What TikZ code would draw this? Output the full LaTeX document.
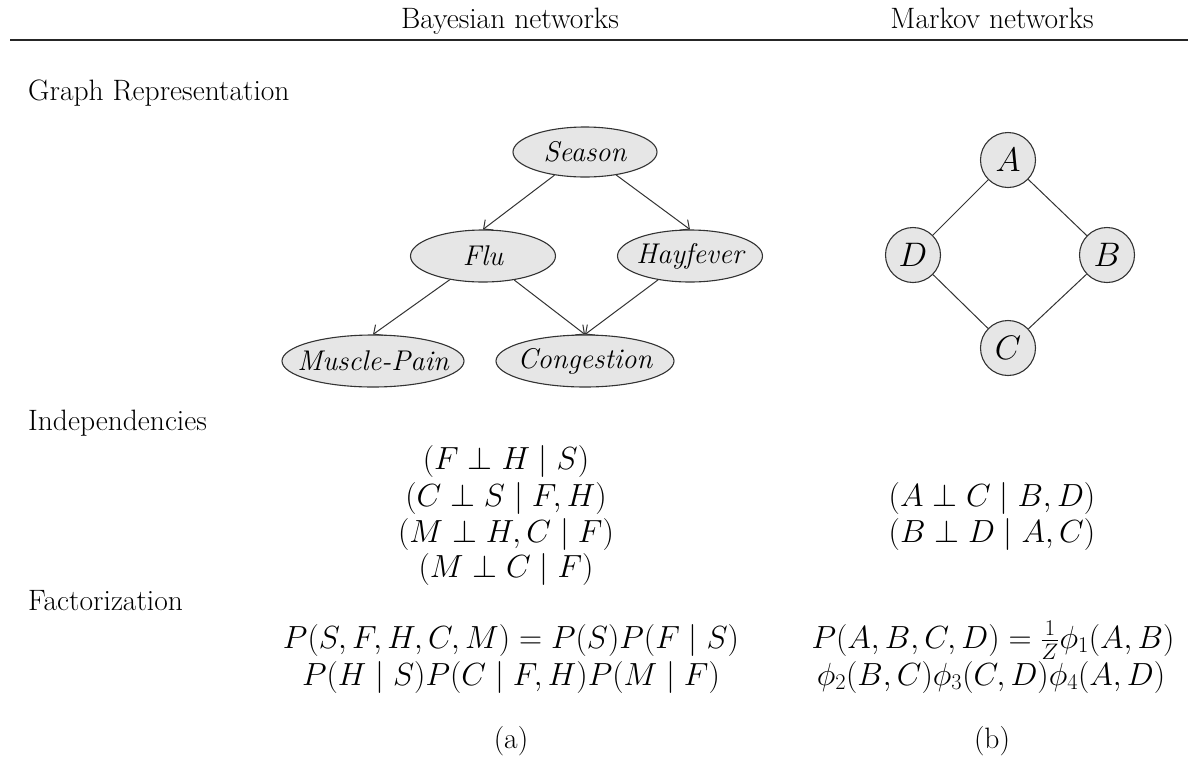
\RequirePackage{fix-cm}
\documentclass[tikz,border=0pt]{standalone}
\usepackage{amsmath}
\usetikzlibrary{shapes.geometric,arrows.meta}
\definecolor{nodefill}{HTML}{E6E6E6}
\definecolor{linec}{HTML}{333333}
\newcommand{\bnlabel}[1]{\makebox[0pt]{\itshape #1}}
\begin{document}
\begin{tikzpicture}[x=1pt,y=-1pt,
  txt/.style={font=\fontsize{29.5}{34}\selectfont, inner sep=0pt, anchor=base},
  sec/.style={txt, anchor=base west},
  mth/.style={font=\fontsize{32}{36}\selectfont, inner sep=0pt, anchor=base},
  bn/.style={ellipse, draw=linec, fill=nodefill, line width=1.1pt, font=\fontsize{28.5}{32}\selectfont, inner sep=0pt, minimum height=52pt},
  mn/.style={circle, draw=linec, fill=nodefill, line width=1.1pt, minimum size=55pt, inner sep=0pt, font=\fontsize{34}{38}\selectfont},
  arr/.style={-{Straight Barb[length=7pt,width=13pt]}, draw=linec, line width=1pt},
  und/.style={draw=linec, line width=1pt}]
\useasboundingbox (0,0) rectangle (1188,756);
% header
\node[txt] (hb) at (510,28) {Bayesian networks};
\node[txt] (hm) at (992,28) {Markov networks};
\coordinate (rl) at (10,40);
\coordinate (rr) at (1188,40);
\draw[line width=1.7pt, draw=black!85] (rl) -- (rr);
% section labels
\node[sec] (sg) at (28,100) {Graph Representation};
\node[sec] (si) at (28,430) {Independencies};
\node[sec] (sf) at (28,610) {Factorization};
% Bayesian network
\node[bn, minimum width=144pt, minimum height=50pt] (S) at (585,152) {\bnlabel{Season}};
\node[bn, minimum width=145pt] (F) at (483,256) {\bnlabel{Flu}};
\node[bn, minimum width=145pt] (H) at (690,256) {\bnlabel{Hayfever}};
\node[bn, minimum width=182pt] (M) at (373,361) {\bnlabel{Muscle-Pain}};
\node[bn, minimum width=178pt] (C) at (585,361) {\bnlabel{Congestion}};
\draw[arr] (S) -- (F.north);
\draw[arr] (S) -- (H.north);
\draw[arr] (F) -- (M.north);
\draw[arr] (F) -- (C.north);
\draw[arr] (H) -- (C.north);
% Markov network
\node[mn] (A) at (1008,160) {$A$};
\node[mn] (D) at (913,255) {$D$};
\node[mn] (B) at (1107,255) {$B$};
\node[mn] (Cc) at (1008,348) {$C$};
\draw[und] (A) -- (D);
\draw[und] (A) -- (B);
\draw[und] (D) -- (Cc);
\draw[und] (B) -- (Cc);
% independencies
\node[mth] (i1) at (506,469) {$(F \perp H \mid S)$};
\node[mth] (i2) at (506,506) {$(C \perp S \mid F, H)$};
\node[mth] (i3) at (506,542) {$(M \perp H, C \mid F)$};
\node[mth] (i4) at (506,577) {$(M \perp C \mid F)$};
\node[mth] (j1) at (992,506) {$(A \perp C \mid B, D)$};
\node[mth] (j2) at (992,542) {$(B \perp D \mid A, C)$};
% factorization
\node[mth] (f1) at (511,648) {$P(S,F,H,C,M) = P(S)P(F \mid S)$};
\node[mth] (f2) at (511,685) {$P(H \mid S)P(C \mid F,H)P(M \mid F)$};
\node[mth] (g1) at (993,648) {$P(A,B,C,D) = \tfrac{1}{Z}\phi_1(A,B)$};
\node[mth] (g2) at (991,685) {$\phi_2(B,C)\phi_3(C,D)\phi_4(A,D)$};
% captions
\node[txt] (ca) at (511,748) {(a)};
\node[txt] (cb) at (992,748) {(b)};
\end{tikzpicture}
\end{document}
